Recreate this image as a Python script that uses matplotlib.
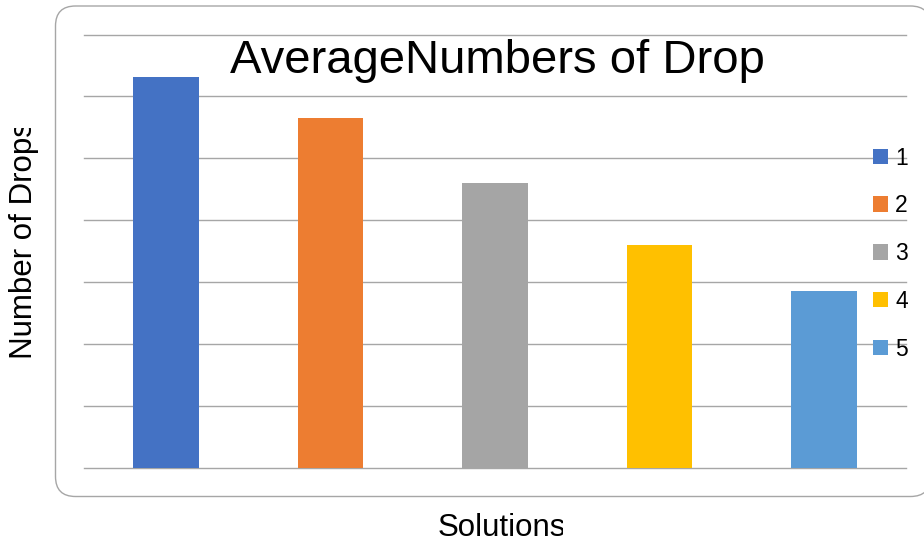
import matplotlib.pyplot as plt
from matplotlib.patches import FancyBboxPatch
from matplotlib.transforms import Bbox, TransformedBbox

# =========================
# DATA
# =========================
solutions = ["1", "2", "3", "4", "5"]
avg_drops = [6.31, 5.65, 4.60, 3.60, 2.85]
colors = ["#4472C4", "#ED7D31", "#A5A5A5", "#FFC000", "#5B9BD5"]

plt.rcParams["font.family"] = ["Liberation Sans", "DejaVu Sans"]

W, H = 924, 544
fig = plt.figure(figsize=(W / 100, H / 100), dpi=100)

# =========================
# ROUNDED CHART BORDER
# =========================
bg = fig.add_axes([0, 0, 1, 1], zorder=0)
bg.set_xlim(0, W)
bg.set_ylim(H, 0)
bg.axis("off")
bg.add_patch(FancyBboxPatch((55.5, 6), 875, 490.5,
                            boxstyle="round,pad=0,rounding_size=20",
                            facecolor="white", edgecolor="#A6A6A6", linewidth=1.0))

# =========================
# BARS
# =========================
ax = fig.add_axes([84 / W, 1 - 467.7 / H, (906 - 84) / W, (467.7 - 34.5) / H], zorder=1)
ax.patch.set_alpha(0)

x = list(range(len(solutions)))
bars = ax.bar(x, avg_drops, width=0.4, color=colors, zorder=2)

ax.set_xlim(-0.5, len(solutions) - 0.5)
ax.set_ylim(0, 7)
ax.set_yticks(range(0, 8))
ax.set_xticks([])
ax.tick_params(left=False, labelleft=False)
ax.grid(axis="y", color="#A6A6A6", linewidth=1.0, zorder=0)
ax.set_axisbelow(True)
for gl in ax.get_ygridlines():
	gl.set_clip_on(False)
for s in ax.spines.values():
	s.set_visible(False)

# =========================
# LEGEND
# =========================
ax.legend(bars, solutions, loc="center left",
          bbox_to_anchor=(873 / W, 1 - 253.5 / H), bbox_transform=fig.transFigure,
          frameon=False, fontsize=16.5, borderpad=0, borderaxespad=0,
          handlelength=0.66, handleheight=0.66, handletextpad=0.3,
          labelspacing=1.08)

# =========================
# TITLE AND AXIS LABELS
# =========================
fig.text(497.5 / W, 1 - 73 / H, "AverageNumbers of Drop", fontsize=34,
         ha="center", va="baseline", color="black")

ylab = fig.text(24 / W, 1 - 240 / H, "Number of Drops", fontsize=22.5,
                rotation=90, ha="center", va="center")
ylab.set_clip_box(TransformedBbox(Bbox.from_extents(0, 0, 60 / W, 1 - 128 / H), fig.transFigure))
ylab.set_clip_on(True)

xlab = fig.text(502 / W, 1 - 536 / H, "Solutions", fontsize=22.5,
                ha="center", va="baseline")
xlab.set_clip_box(TransformedBbox(Bbox.from_extents(0, 0, 563 / W, 1 - 500 / H), fig.transFigure))
xlab.set_clip_on(True)

plt.savefig("out.png", dpi=100)
